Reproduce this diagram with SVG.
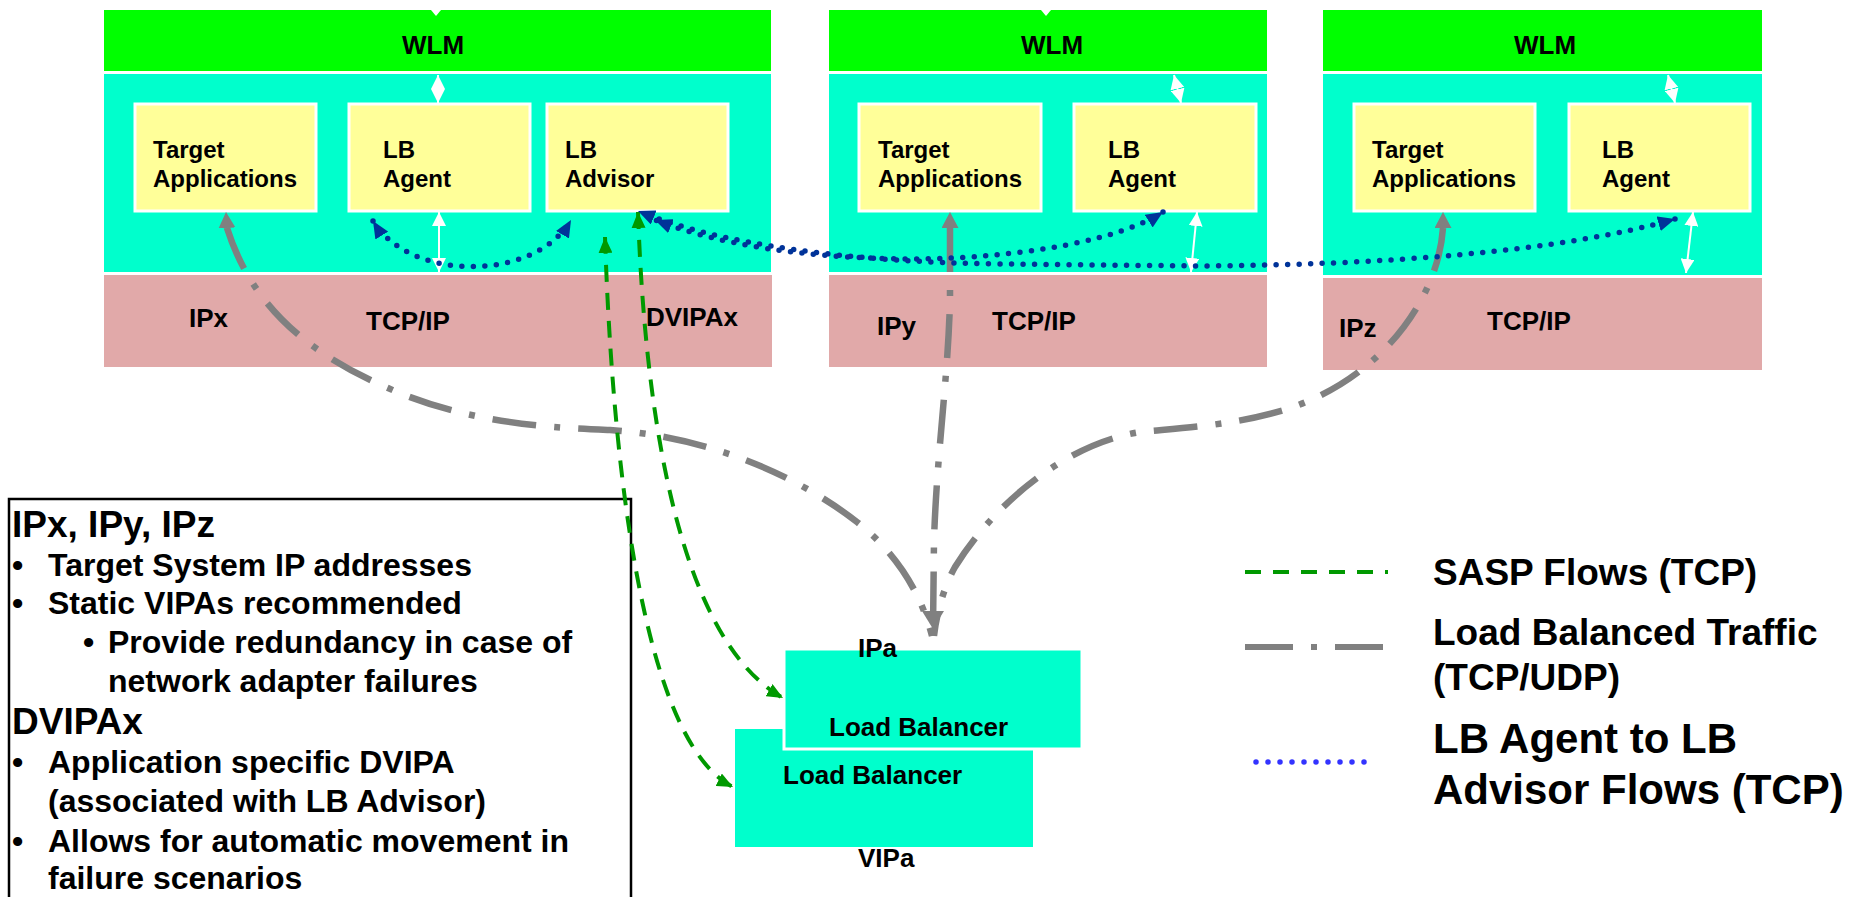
<svg xmlns="http://www.w3.org/2000/svg" width="1852" height="897" viewBox="0 0 1852 897">
<style>
text{font-family:"Liberation Sans",Arial,Helvetica,sans-serif;font-weight:bold;fill:#000}
.wlm{fill:#00FF00}
.mid{fill:#00FFCC}
.tcp{fill:#E1A9A9}
.box{fill:#FFFF99;stroke:#fff;stroke-width:3}
.t24{font-size:24px}
.t26{font-size:26px}
.c{text-anchor:middle}
.gray{fill:none;stroke:#808080;stroke-width:6.5;stroke-dasharray:44 18 6 18;stroke-dashoffset:-16}
.sasp{fill:none;stroke:#009900;stroke-width:4;stroke-dasharray:17 11}
.dots{fill:none;stroke:#003399;stroke-width:5.5;stroke-linecap:round;stroke-dasharray:0 11.5}
.wa{fill:none;stroke:#fff;stroke-width:2}
.lt{font-size:32px}
.lh{font-size:37px}
</style>
<defs>
<marker id="gh" viewBox="0 0 10 10" refX="10" refY="5" markerUnits="userSpaceOnUse" markerWidth="16" markerHeight="17" preserveAspectRatio="none" orient="auto-start-reverse"><path d="M0,0L10,5L0,10z" fill="#808080"/></marker>
<marker id="ghL" viewBox="0 0 10 10" refX="10" refY="5" markerUnits="userSpaceOnUse" markerWidth="18" markerHeight="22" preserveAspectRatio="none" orient="auto"><path d="M0,0L10,5L0,10z" fill="#808080"/></marker>
<marker id="bh" viewBox="0 0 10 10" refX="10" refY="5" markerUnits="userSpaceOnUse" markerWidth="17" markerHeight="15" preserveAspectRatio="none" orient="auto-start-reverse"><path d="M0,0L10,5L0,10z" fill="#003399"/></marker>
<marker id="sh" viewBox="0 0 10 10" refX="10" refY="5" markerUnits="userSpaceOnUse" markerWidth="16" markerHeight="14" preserveAspectRatio="none" orient="auto-start-reverse"><path d="M0,0L10,5L0,10z" fill="#009900"/></marker>
<marker id="wh" viewBox="0 0 10 10" refX="10" refY="5" markerUnits="userSpaceOnUse" markerWidth="14" markerHeight="14" preserveAspectRatio="none" orient="auto-start-reverse"><path d="M0,0L10,5L0,10z" fill="#fff"/></marker>
</defs>
<rect width="1852" height="897" fill="#fff"/>

<!-- System 1 -->
<g id="sys1-wlm">
<rect class="wlm" x="104" y="10" width="667" height="61"/>
<polygon points="431,10 441,10 436,16" fill="#fff"/>
<text class="t26 c" x="433" y="54">WLM</text>
</g>
<g id="sys1-stack"><rect class="mid" x="104" y="74" width="667" height="198"/></g>
<g id="sys1-tcpip">
<rect class="tcp" x="104" y="275" width="668" height="92"/>
<text class="t26" x="189" y="327">IPx</text>
<text class="t26" x="366" y="330">TCP/IP</text>
<text class="t26" x="646" y="326">DVIPAx</text>
</g>
<g id="sys1-target"><rect class="box" x="135" y="104" width="181" height="107"/><text class="t24" x="153" y="158">Target</text><text class="t24" x="153" y="187">Applications</text></g>
<g id="sys1-agent"><rect class="box" x="349" y="104" width="181" height="107"/><text class="t24" x="383" y="158">LB</text><text class="t24" x="383" y="187">Agent</text></g>
<g id="sys1-advisor"><rect class="box" x="547" y="104" width="181" height="107"/><text class="t24" x="565" y="158">LB</text><text class="t24" x="565" y="187">Advisor</text></g>

<!-- System 2 -->
<g id="sys2-wlm">
<rect class="wlm" x="829" y="10" width="438" height="61"/>
<polygon points="1041,10 1051,10 1046,16" fill="#fff"/>
<text class="t26 c" x="1052" y="54">WLM</text>
</g>
<g id="sys2-stack"><rect class="mid" x="829" y="74" width="438" height="198"/></g>
<g id="sys2-tcpip">
<rect class="tcp" x="829" y="275" width="438" height="92"/>
<text class="t26" x="877" y="335">IPy</text>
<text class="t26" x="992" y="330">TCP/IP</text>
</g>
<g id="sys2-target"><rect class="box" x="859" y="104" width="182" height="107"/><text class="t24" x="878" y="158">Target</text><text class="t24" x="878" y="187">Applications</text></g>
<g id="sys2-agent"><rect class="box" x="1074" y="104" width="182" height="107"/><text class="t24" x="1108" y="158">LB</text><text class="t24" x="1108" y="187">Agent</text></g>

<!-- System 3 -->
<g id="sys3-wlm">
<rect class="wlm" x="1323" y="10" width="439" height="61"/>
<text class="t26 c" x="1545" y="54">WLM</text>
</g>
<g id="sys3-stack"><rect class="mid" x="1323" y="74" width="439" height="201"/></g>
<g id="sys3-tcpip">
<rect class="tcp" x="1323" y="278" width="439" height="92"/>
<text class="t26" x="1339" y="337">IPz</text>
<text class="t26" x="1487" y="330">TCP/IP</text>
</g>
<g id="sys3-target"><rect class="box" x="1354" y="104" width="181" height="107"/><text class="t24" x="1372" y="158">Target</text><text class="t24" x="1372" y="187">Applications</text></g>
<g id="sys3-agent"><rect class="box" x="1569" y="104" width="181" height="107"/><text class="t24" x="1602" y="158">LB</text><text class="t24" x="1602" y="187">Agent</text></g>

<!-- Load balancers -->
<g id="lb-back">
<rect fill="#00FFCC" x="735" y="729" width="298" height="118"/>
<text class="t26" x="783" y="784">Load Balancer</text>
<text class="t26" x="858" y="867">VIPa</text>
</g>
<g id="lb-front">
<rect fill="#00FFCC" stroke="#fff" stroke-width="3" x="784" y="649" width="298" height="100"/>
<text class="t26" x="829" y="736">Load Balancer</text>
<text class="t26" x="858" y="657">IPa</text>
</g>

<!-- Notes box -->
<g id="notes">
<rect x="9" y="499" width="622" height="420" fill="none" stroke="#000" stroke-width="2.5"/>
<text class="lh" x="12" y="537">IPx, IPy, IPz</text>
<text class="lt" x="12" y="576">•</text><text class="lt" x="48" y="576">Target System IP addresses</text>
<text class="lt" x="12" y="614">•</text><text class="lt" x="48" y="614">Static VIPAs recommended</text>
<text class="lt" x="83" y="653">•</text><text class="lt" x="108" y="653">Provide redundancy in case of</text>
<text class="lt" x="108" y="692">network adapter failures</text>
<text class="lh" x="12" y="734">DVIPAx</text>
<text class="lt" x="12" y="773">•</text><text class="lt" x="48" y="773">Application specific DVIPA</text>
<text class="lt" x="48" y="812">(associated with LB Advisor)</text>
<text class="lt" x="12" y="852">•</text><text class="lt" x="48" y="852">Allows for automatic movement in</text>
<text class="lt" x="48" y="889">failure scenarios</text>
</g>

<!-- Connectors -->
<g id="connectors">
<path class="wa" d="M438,75 L438,103" marker-start="url(#wh)" marker-end="url(#wh)"/>
<path class="wa" d="M439,212 L439,272" marker-start="url(#wh)" marker-end="url(#wh)"/>
<path class="wa" d="M1174,75 L1181,103" marker-start="url(#wh)" marker-end="url(#wh)"/>
<path class="wa" d="M1197,212 L1191,272" marker-start="url(#wh)" marker-end="url(#wh)"/>
<path class="wa" d="M1668,75 L1675,103" marker-start="url(#wh)" marker-end="url(#wh)"/>
<path class="wa" d="M1693,212 L1686,273" marker-start="url(#wh)" marker-end="url(#wh)"/>

<path class="gray" d="M226,212 L227,228 C250,300 300,350 388,388 C470,425 560,428 610,430 C700,436 790,470 857,522 C895,552 920,590 932,636" marker-start="url(#gh)"/>
<path class="gray" d="M950,212 L950,300 C948,380 937,450 934,540 L933,630" marker-start="url(#gh)"/>
<path class="gray" d="M1443,212 L1443,228 C1438,300 1380,380 1284,410 C1230,426 1180,428 1140,432 C1060,445 990,510 955,567 C945,585 937,610 934,636" marker-start="url(#gh)"/>
<path d="M933,628 L933,629" stroke="#808080" stroke-width="6" marker-end="url(#ghL)" fill="none"/>

<path class="sasp" d="M605,237 C612,450 640,740 733,787" marker-start="url(#sh)" marker-end="url(#sh)"/>
<path class="sasp" d="M638,212 C645,420 680,640 783,698" marker-start="url(#sh)" marker-end="url(#sh)"/>

<path class="dots" d="M373,221 C410,282 535,282 571,220" marker-start="url(#bh)" marker-end="url(#bh)"/>
<path class="dots" d="M1163,212 C1100,252 960,260 900,259 C800,257 720,245 655,220" marker-start="url(#bh)" marker-end="url(#bh)"/>
<path class="dots" d="M1675,219 C1560,252 1380,265 1200,266 L1000,264 C850,262 720,245 638,211" marker-start="url(#bh)" marker-end="url(#bh)"/>
</g>

<!-- Legend -->
<g id="legend">
<line x1="1245" y1="572" x2="1388" y2="572" stroke="#009900" stroke-width="4" stroke-dasharray="16 12"/>
<line x1="1245" y1="647" x2="1383" y2="647" stroke="#808080" stroke-width="6" stroke-dasharray="48 18 6 18"/>
<line x1="1256" y1="762" x2="1376" y2="762" stroke="#3333FF" stroke-width="5.5" stroke-linecap="round" stroke-dasharray="0 12"/>
<text x="1433" y="585" font-size="37">SASP Flows (TCP)</text>
<text x="1433" y="645" font-size="37">Load Balanced Traffic</text>
<text x="1433" y="690" font-size="37">(TCP/UDP)</text>
<text x="1433" y="753" font-size="42">LB Agent to LB</text>
<text x="1433" y="804" font-size="42">Advisor Flows (TCP)</text>
</g>
</svg>
